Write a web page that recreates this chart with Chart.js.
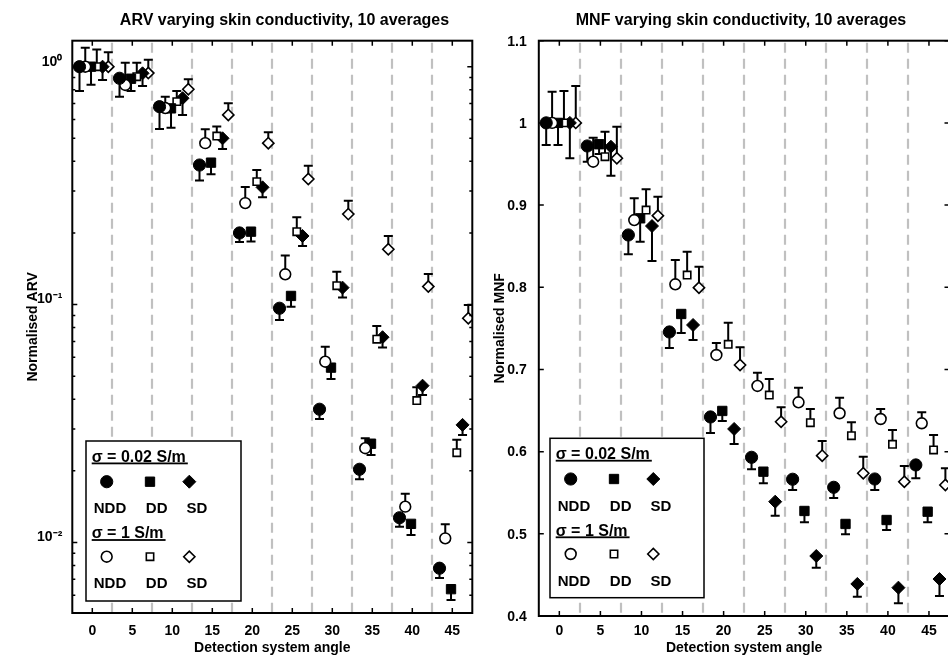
<!DOCTYPE html>
<html><head><meta charset="utf-8">
<script src="https://cdn.jsdelivr.net/npm/chart.js@4/dist/chart.umd.min.js"></script>
<style>
html,body{margin:0;padding:0;overflow:hidden;background:#fff;width:948px;height:663px;position:relative;}
#c1{position:absolute;left:0;top:0;}
#c2{position:absolute;left:470px;top:0;}
</style></head><body>
<canvas id="c1" width="569" height="663"></canvas>
<canvas id="c2" width="542" height="663"></canvas>
<script>
// ---------- data ----------
const angles = [0, 5, 10, 15, 20, 25, 30, 35, 40, 45];
const groupOffsets = [-1.6, -0.88, -0.16, 0.56, 1.28, 2.0];
const separators = [2.5, 7.5, 12.5, 17.5, 22.5, 27.5, 32.5, 37.5, 42.5];
const xTicks = [0, 5, 10, 15, 20, 25, 30, 35, 40, 45];
const arvTicks = [0.01, 0.1, 1];
const arvTickLabels = ['10\u207B\u00B2', '10\u207B\u00B9', '10\u2070'];
const mnfTicks = [0.4, 0.5, 0.6, 0.7, 0.8, 0.9, 1.0, 1.1];
const mnfTickLabels = ['0.4', '0.5', '0.6', '0.7', '0.8', '0.9', '1', '1.1'];
const seriesLabels = ['NDD, \u03C3 = 0.02 S/m', 'NDD, \u03C3 = 1 S/m', 'DD, \u03C3 = 0.02 S/m', 'DD, \u03C3 = 1 S/m', 'SD, \u03C3 = 0.02 S/m', 'SD, \u03C3 = 1 S/m'];

// ARV (normalised), sigma = 0.02 S/m -> error bar end below; sigma = 1 S/m -> error bar end above
const arvNdd002    = [1.0, 0.894, 0.679, 0.386, 0.200, 0.0965, 0.0363, 0.0203, 0.0127, 0.00779];
const arvNdd002Err = [0.79, 0.748, 0.547, 0.332, 0.183, 0.0861, 0.033, 0.01845, 0.01165, 0.00708];
const arvNdd1      = [1.0, 0.838, 0.67, 0.477, 0.267, 0.134, 0.0575, 0.0249, 0.01414, 0.0104];
const arvNdd1Err   = [1.2, 1.04, 0.748, 0.546, 0.312, 0.1606, 0.0665, 0.0274, 0.016, 0.01193];
const arvDd002     = [1.0, 0.89, 0.668, 0.395, 0.2025, 0.1087, 0.0543, 0.026, 0.01197, 0.00636];
const arvDd002Err  = [0.84, 0.79, 0.554, 0.353, 0.184, 0.098, 0.0487, 0.0233, 0.01075, 0.00573];
const arvDd1       = [1.0, 0.908, 0.713, 0.511, 0.3287, 0.2025, 0.12, 0.0715, 0.0395, 0.02384];
const arvDd1Err    = [1.18, 1.04, 0.79, 0.56, 0.368, 0.2328, 0.1375, 0.0813, 0.0449, 0.027];
const arvSd002     = [1.0, 0.938, 0.737, 0.5, 0.311, 0.1942, 0.1178, 0.0729, 0.0456, 0.0312];
const arvSd002Err  = [0.88, 0.83, 0.627, 0.451, 0.2825, 0.1763, 0.107, 0.066, 0.0417, 0.0283];
const arvSd1       = [1.0, 0.94, 0.804, 0.627, 0.477, 0.337, 0.24, 0.1708, 0.119, 0.0876];
const arvSd1Err    = [1.15, 1.07, 0.885, 0.702, 0.53, 0.3836, 0.273, 0.194, 0.1344, 0.0996];

// MNF (normalised)
const mnfNdd002    = [1.0, 0.9719, 0.8636, 0.7456, 0.6422, 0.5931, 0.5664, 0.5566, 0.5667, 0.5838];
const mnfNdd002Err = [0.9731, 0.9528, 0.8401, 0.7261, 0.6227, 0.5785, 0.5533, 0.5436, 0.5533, 0.5676];
const mnfNdd1      = [1.0, 0.9528, 0.8818, 0.8036, 0.7176, 0.6799, 0.66, 0.6467, 0.6397, 0.6345];
const mnfNdd1Err   = [1.038, 0.982, 0.9083, 0.8332, 0.7322, 0.696, 0.6778, 0.6656, 0.6519, 0.6479];
const mnfDd002     = [1.0, 0.974, 0.8839, 0.7675, 0.6495, 0.5756, 0.5278, 0.512, 0.5168, 0.5269];
const mnfDd002Err  = [0.973, 0.962, 0.8554, 0.7444, 0.6373, 0.5615, 0.514, 0.4994, 0.5047, 0.514];
const mnfDd1       = [1.0, 0.9589, 0.894, 0.8149, 0.7306, 0.6689, 0.6352, 0.6194, 0.6089, 0.602];
const mnfDd1Err    = [1.0388, 0.9893, 0.9192, 0.8433, 0.7569, 0.6884, 0.6519, 0.6357, 0.6263, 0.6203];
const mnfSd002     = [1.0, 0.971, 0.8745, 0.7541, 0.6276, 0.5391, 0.473, 0.439, 0.4345, 0.445];
const mnfSd002Err  = [0.9569, 0.9357, 0.832, 0.7358, 0.6093, 0.5221, 0.4588, 0.4235, 0.4155, 0.4244];
const mnfSd1       = [1.0, 0.9569, 0.8871, 0.7995, 0.7054, 0.6364, 0.5951, 0.5737, 0.5634, 0.5594];
const mnfSd1Err    = [1.0449, 0.9954, 0.9102, 0.825, 0.727, 0.654, 0.6129, 0.5939, 0.5825, 0.5797];

// ---------- styles ----------
const FONT = '"Liberation Sans", Arial, Helvetica, sans-serif';
Chart.defaults.font.family = FONT;
Chart.defaults.color = '#000';
const markerStyles = [
  {shape: 'circle',  filled: true,  r: 6.1},
  {shape: 'circle',  filled: false, r: 5.4},
  {shape: 'rect',    filled: true,  r: 6.6},
  {shape: 'rect',    filled: false, r: 5.2},
  {shape: 'rectRot', filled: true,  r: 6.5},
  {shape: 'rectRot', filled: false, r: 5.6}
];

function makeDatasets(vals, errs) {
  return vals.map((v, k) => ({
    label: seriesLabels[k],
    data: angles.map((a, j) => ({x: a + groupOffsets[k], y: v[j]})),
    errEnd: errs[k],
    xAxisID: 'x', yAxisID: 'y',
    showLine: false,
    pointStyle: markerStyles[k].shape,
    pointRadius: markerStyles[k].r,
    pointBackgroundColor: markerStyles[k].filled ? '#000' : '#fff',
    pointBorderColor: '#000',
    pointBorderWidth: markerStyles[k].filled ? 1 : 1.6
  }));
}

function drawMarker(ctx, shape, filled, x, y, r) {
  ctx.beginPath();
  if (shape === 'circle') ctx.arc(x, y, r, 0, Math.PI * 2);
  else if (shape === 'rect') { const s = r * Math.SQRT1_2; ctx.rect(x - s, y - s, 2 * s, 2 * s); }
  else { ctx.moveTo(x - r, y); ctx.lineTo(x, y - r); ctx.lineTo(x + r, y); ctx.lineTo(x, y + r); ctx.closePath(); }
  ctx.fillStyle = filled ? '#000' : '#fff';
  ctx.fill();
  ctx.lineWidth = filled ? 1 : 1.6;
  ctx.strokeStyle = '#000';
  ctx.stroke();
}

const decor = {
  id: 'decor',
  beforeDatasetsDraw(chart, args, o) {
    const {ctx, chartArea: a} = chart;
    const xs = chart.scales.x, ys = chart.scales.y;
    ctx.save();
    ctx.strokeStyle = '#c0c0c0'; ctx.lineWidth = 2.2; ctx.setLineDash([10, 6]);
    for (const s of separators) {
      const px = Math.round(xs.getPixelForValue(s));
      ctx.beginPath(); ctx.moveTo(px, a.top + 2); ctx.lineTo(px, a.bottom); ctx.stroke();
    }
    ctx.setLineDash([]);
    ctx.strokeStyle = '#000'; ctx.lineWidth = 2;
    chart.data.datasets.forEach((ds, i) => {
      const meta = chart.getDatasetMeta(i);
      meta.data.forEach((el, j) => {
        const yEnd = ys.getPixelForValue(ds.errEnd[j]);
        ctx.beginPath();
        ctx.moveTo(el.x, el.y); ctx.lineTo(el.x, yEnd);
        ctx.moveTo(el.x - 4.5, yEnd); ctx.lineTo(el.x + 4.5, yEnd);
        ctx.stroke();
      });
    });
    ctx.restore();
  },
  afterDraw(chart, args, o) {
    const {ctx, chartArea: a} = chart;
    const xs = chart.scales.x, ys = chart.scales.y;
    ctx.save();
    ctx.strokeStyle = '#000'; ctx.lineWidth = 1.5;
    ctx.beginPath();
    for (const t of xTicks) {
      const px = xs.getPixelForValue(t);
      ctx.moveTo(px, a.bottom); ctx.lineTo(px, a.bottom - 5);
      ctx.moveTo(px, a.top); ctx.lineTo(px, a.top + 5);
    }
    for (const t of o.yMajor) {
      const py = ys.getPixelForValue(t);
      ctx.moveTo(a.left, py); ctx.lineTo(a.left + 5, py);
      ctx.moveTo(a.right, py); ctx.lineTo(a.right - 5, py);
    }
    if (o.logMinor) {
      for (let d = -3; d <= 0; d++) {
        for (let m = 2; m <= 9; m++) {
          const v = m * Math.pow(10, d);
          if (v < ys.min || v > ys.max) continue;
          const py = ys.getPixelForValue(v);
          ctx.moveTo(a.left, py); ctx.lineTo(a.left + 3, py);
          ctx.moveTo(a.right, py); ctx.lineTo(a.right - 3, py);
        }
      }
    }
    ctx.stroke();
    ctx.lineWidth = 2;
    ctx.strokeRect(a.left, a.top, a.right - a.left, a.bottom - a.top);

    // legend box
    const L = o.legendBox;
    ctx.fillStyle = '#fff';
    ctx.fillRect(L.x, L.y, L.w, L.h);
    ctx.lineWidth = 1.5; ctx.strokeStyle = '#000';
    ctx.strokeRect(L.x, L.y, L.w, L.h);
    ctx.fillStyle = '#000';
    ctx.textBaseline = 'alphabetic';
    const headers = ['\u03C3 = 0.02 S/m', '\u03C3 = 1 S/m'];
    const headerY = [20.7, 97.3];
    const markerY = [40.7, 115.7];
    const labelY = [72.3, 147.3];
    const markerX = [20.7, 64, 103.3];
    const labelX = [24, 70.7, 111];
    const names = ['NDD', 'DD', 'SD'];
    for (let g = 0; g < 2; g++) {
      ctx.font = 'bold 16px ' + FONT;
      ctx.textAlign = 'left';
      ctx.fillStyle = '#000';
      ctx.fillText(headers[g], L.x + 5.7, L.y + headerY[g]);
      const w = ctx.measureText(headers[g]).width;
      ctx.fillRect(L.x + 5.7, L.y + headerY[g] + 0.8, w + 2, 1.8);
      for (let k = 0; k < 3; k++) {
        const st = markerStyles[k * 2 + g];
        drawMarker(ctx, st.shape, st.filled, L.x + markerX[k], L.y + markerY[g], st.r);
      }
      ctx.font = 'bold 15px ' + FONT;
      ctx.textAlign = 'center';
      ctx.fillStyle = '#000';
      for (let k = 0; k < 3; k++) ctx.fillText(names[k], L.x + labelX[k], L.y + labelY[g]);
    }
    ctx.restore();
  }
};

function xScale(tickPad, height) {
  return {
    type: 'linear', min: -2.5, max: 47.5,
    afterBuildTicks: s => { s.ticks = xTicks.map(v => ({value: v})); },
    afterFit: s => { s.height = height; },
    grid: {display: false, drawTicks: false}, border: {display: false},
    ticks: {callback: v => String(v), padding: tickPad, maxRotation: 0, autoSkip: false,
            font: {size: 14, weight: 'bold'}, color: '#000'},
    title: {display: true, text: 'Detection system angle', color: '#000',
            font: {size: 14, weight: 'bold'}, padding: {top: 0, bottom: 6}}
  };
}
function dummyRight(width) {
  return {type: 'linear', position: 'right', display: true,
          grid: {display: false, drawTicks: false}, border: {display: false},
          ticks: {display: false}, afterFit: s => { s.width = width; }};
}
function titleOpts(text) {
  return {display: true, text: text, color: '#000', font: {size: 16, weight: 'bold'},
          padding: {top: 11.2, bottom: 10.3}, fullSize: true};
}

new Chart(document.getElementById('c1'), {
  type: 'scatter',
  data: {datasets: makeDatasets(
    [arvNdd002, arvNdd1, arvDd002, arvDd1, arvSd002, arvSd1],
    [arvNdd002Err, arvNdd1Err, arvDd002Err, arvDd1Err, arvSd002Err, arvSd1Err])},
  options: {
    responsive: false, animation: false, events: [], devicePixelRatio: 1,
    layout: {padding: 0},
    scales: {
      x: xScale(9.6, 50),
      y: {type: 'logarithmic', min: 0.00505, max: 1.286,
          afterBuildTicks: s => { s.ticks = arvTicks.map(v => ({value: v})); },
          afterFit: s => { s.width = 72.3; },
          grid: {display: false, drawTicks: false}, border: {display: false},
          ticks: {callback: v => { const i = arvTicks.findIndex(t => Math.abs(Math.log10(t) - Math.log10(v)) < 1e-6); return i >= 0 ? arvTickLabels[i] : ''; },
                  padding: 10, labelOffset: -5, font: {size: 14, weight: 'bold'}, color: '#000', autoSkip: false},
          title: {display: true, text: 'Normalised ARV', color: '#000', font: {size: 14, weight: 'bold'}, padding: {top: 24.6, bottom: 0}}},
      yr: dummyRight(96.7)
    },
    plugins: {
      legend: {display: false}, tooltip: {enabled: false},
      title: titleOpts('ARV varying skin conductivity, 10 averages'),
      decor: {yMajor: arvTicks, logMinor: true, legendBox: {x: 86, y: 441, w: 155, h: 160}}
    }
  },
  plugins: [decor]
});

new Chart(document.getElementById('c2'), {
  type: 'scatter',
  data: {datasets: makeDatasets(
    [mnfNdd002, mnfNdd1, mnfDd002, mnfDd1, mnfSd002, mnfSd1],
    [mnfNdd002Err, mnfNdd1Err, mnfDd002Err, mnfDd1Err, mnfSd002Err, mnfSd1Err])},
  options: {
    responsive: false, animation: false, events: [], devicePixelRatio: 1,
    layout: {padding: 0},
    scales: {
      x: xScale(6.6, 47),
      y: {type: 'linear', min: 0.4, max: 1.1,
          afterBuildTicks: s => { s.ticks = mnfTicks.map(v => ({value: v})); },
          afterFit: s => { s.width = 68.8; },
          grid: {display: false, drawTicks: false}, border: {display: false},
          ticks: {callback: v => { const i = mnfTicks.findIndex(t => Math.abs(t - v) < 1e-6); return i >= 0 ? mnfTickLabels[i] : ''; },
                  padding: 12, labelOffset: 1, font: {size: 14, weight: 'bold'}, color: '#000', autoSkip: false},
          title: {display: true, text: 'Normalised MNF', color: '#000', font: {size: 14, weight: 'bold'}, padding: {top: 21.6, bottom: 0}}},
      yr: dummyRight(62.5)
    },
    plugins: {
      legend: {display: false}, tooltip: {enabled: false},
      title: titleOpts('MNF varying skin conductivity, 10 averages'),
      decor: {yMajor: mnfTicks, logMinor: false, legendBox: {x: 80, y: 438.3, w: 154, h: 159.4}}
    }
  },
  plugins: [decor]
});
</script>
</body></html>
